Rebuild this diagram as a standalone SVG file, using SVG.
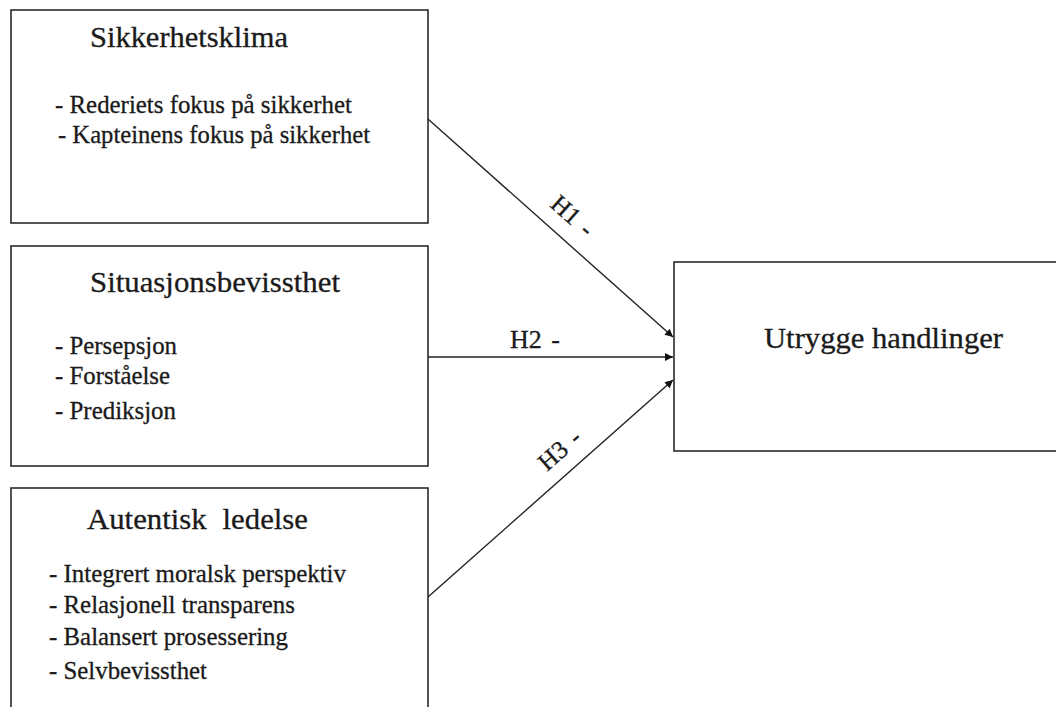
<svg xmlns="http://www.w3.org/2000/svg" width="1056" height="707" viewBox="0 0 1056 707">
<style>
.box{fill:#fff;stroke:#2a2a2a;stroke-width:1.6}
.t{font-family:"Liberation Serif","Times New Roman",serif;fill:#1a1a1a;stroke:#1a1a1a;stroke-width:0.3}
.title{font-size:30px}
.item{font-size:25px}
.lbl{font-size:25px;word-spacing:3px}
.conn{stroke:#222;stroke-width:1.4;fill:none;marker-end:url(#ah)}
</style>
<defs>
<marker id="ah" viewBox="0 0 10 10" refX="10" refY="5" markerWidth="10" markerHeight="8" markerUnits="userSpaceOnUse" orient="auto">
<path d="M0,0 L10,5 L0,10 z" fill="#111"/>
</marker>
</defs>
<rect width="1056" height="707" fill="#fff"/>
<g id="node-sikkerhetsklima">
<rect class="box" x="11" y="10" width="417" height="213"/>
<text class="t title" x="90" y="47" textLength="198" lengthAdjust="spacingAndGlyphs">Sikkerhetsklima</text>
<text class="t item" x="55" y="113" textLength="297" lengthAdjust="spacingAndGlyphs">- Rederiets fokus på sikkerhet</text>
<text class="t item" x="58" y="143" textLength="312" lengthAdjust="spacingAndGlyphs">- Kapteinens fokus på sikkerhet</text>
</g>
<g id="node-situasjonsbevissthet">
<rect class="box" x="11" y="246" width="417" height="220"/>
<text class="t title" x="90" y="292" textLength="250" lengthAdjust="spacingAndGlyphs">Situasjonsbevissthet</text>
<text class="t item" x="55" y="354" textLength="122" lengthAdjust="spacingAndGlyphs">- Persepsjon</text>
<text class="t item" x="55" y="384" textLength="115" lengthAdjust="spacingAndGlyphs">- Forståelse</text>
<text class="t item" x="55" y="419" textLength="121" lengthAdjust="spacingAndGlyphs">- Prediksjon</text>
</g>
<g id="node-autentisk-ledelse">
<rect class="box" x="11" y="488" width="417" height="240"/>
<text class="t title" x="87" y="529" word-spacing="8" textLength="221" lengthAdjust="spacingAndGlyphs">Autentisk ledelse</text>
<text class="t item" x="49" y="582" textLength="297" lengthAdjust="spacingAndGlyphs">- Integrert moralsk perspektiv</text>
<text class="t item" x="49" y="613" textLength="246" lengthAdjust="spacingAndGlyphs">- Relasjonell transparens</text>
<text class="t item" x="49" y="645" textLength="239" lengthAdjust="spacingAndGlyphs">- Balansert prosessering</text>
<text class="t item" x="49" y="679" textLength="158" lengthAdjust="spacingAndGlyphs">- Selvbevissthet</text>
</g>
<g id="node-utrygge-handlinger">
<rect class="box" x="674" y="262" width="400" height="189"/>
<text class="t title" x="764" y="348" textLength="239" lengthAdjust="spacingAndGlyphs">Utrygge handlinger</text>
</g>
<g id="connectors">
<line class="conn" x1="428" y1="119" x2="673" y2="337"/>
<line class="conn" x1="428" y1="357" x2="673" y2="357"/>
<line class="conn" x1="428" y1="597" x2="673" y2="380"/>
<text class="t lbl" x="567" y="222" text-anchor="middle" transform="rotate(41.5 567 222)">H1 -</text>
<text class="t lbl" x="510" y="348" textLength="50" lengthAdjust="spacingAndGlyphs">H2 -</text>
<text class="t lbl" x="565" y="456" text-anchor="middle" transform="rotate(-41.4 565 456)">H3 -</text>
</g>
</svg>
